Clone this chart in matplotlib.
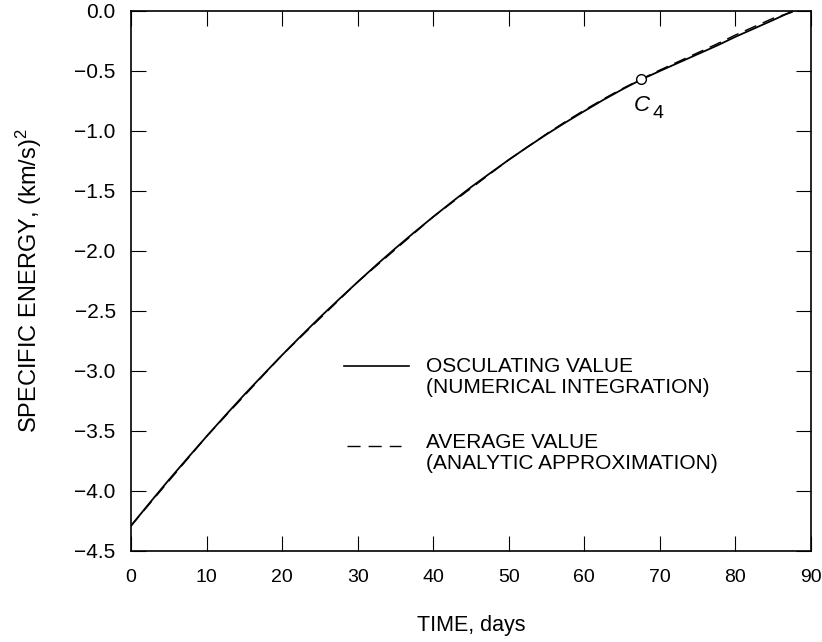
import matplotlib
matplotlib.use('Agg')
import matplotlib.pyplot as plt

plt.rcParams['font.family'] = ['Liberation Sans', 'DejaVu Sans']
plt.rcParams['mathtext.fontset'] = 'custom'
plt.rcParams['mathtext.rm'] = 'Liberation Sans'
plt.rcParams['mathtext.it'] = 'Liberation Sans:italic'

# temps (jours) et energie specifique (km/s)^2, valeur osculatrice
jours = [0, 2.5, 5, 7.5, 10, 12.5, 15, 17.5, 20, 22.5, 25, 27.5, 30, 32.5, 35, 37.5,
         40, 42.5, 45, 47.5, 50, 52.5, 55, 57.5, 60, 62.5, 65, 67.5, 70, 72.5, 75,
         77.5, 80, 82.5, 85, 87.6]
osculant = [-4.29, -4.097, -3.908, -3.725, -3.545, -3.369, -3.197, -3.031, -2.867,
            -2.708, -2.553, -2.404, -2.258, -2.115, -1.977, -1.844, -1.715, -1.590,
            -1.468, -1.353, -1.240, -1.132, -1.028, -0.929, -0.834, -0.741, -0.654,
            -0.572, -0.500, -0.430, -0.360, -0.290, -0.215, -0.145, -0.075, 0.0]

# valeur moyenne (approximation analytique)
jours_moy = [0, 10, 20, 30, 40, 50, 55, 57.5, 60, 62.5, 65, 67.5, 70, 72.5, 75,
             77.5, 80, 82.5, 85, 88.0]
moyenne = [-4.29, -3.545, -2.867, -2.258, -1.715, -1.240, -1.024, -0.922, -0.826,
           -0.734, -0.648, -0.568, -0.492, -0.420, -0.348, -0.276, -0.200, -0.130,
           -0.060, 0.0]

# point C4
c4_jour = 67.5
c4_val = -0.57

xticks = list(range(0, 91, 10))
yticks = [0.0, -0.5, -1.0, -1.5, -2.0, -2.5, -3.0, -3.5, -4.0, -4.5]

fig = plt.figure(figsize=(8.22, 6.42), dpi=100)
ax = fig.add_axes([131/822, 1-551/642, 680/822, 540/642])

ax.plot(jours_moy, moyenne, color='black', lw=1.0, dashes=(9, 5), zorder=2)
ax.plot(jours, osculant, color='black', lw=1.3, zorder=3)
ax.plot([c4_jour], [c4_val], marker='o', ms=7, mfc='white', mec='black', mew=1.0, zorder=4)
ax.text(67.6, -0.79, 'C', fontsize=16, style='italic', ha='center', va='center')
ax.text(69.8, -0.855, '4', fontsize=14, ha='center', va='center')

# legende dessinee a la main
ax.plot([28.2, 36.8], [-2.96, -2.96], color='black', lw=1.2)
ax.text(39.0, -2.96, 'OSCULATING VALUE', fontsize=15, va='center')
ax.text(39.0, -3.135, '(NUMERICAL INTEGRATION)', fontsize=15, va='center')
ax.plot([28.6, 35.7], [-3.625, -3.625], color='black', lw=1.0, dashes=(9.4, 5.8))
ax.text(39.0, -3.60, 'AVERAGE VALUE', fontsize=15, va='center')
ax.text(39.0, -3.77, '(ANALYTIC APPROXIMATION)', fontsize=15, va='center')

ax.set_xlim(0, 90)
ax.set_ylim(-4.5, 0.0)
ax.set_xticks(xticks)
ax.set_yticks(yticks)
ax.set_yticklabels(['0.0'] + ['\u2212%.1f' % abs(v) for v in yticks[1:]])
ax.tick_params(direction='in', length=11, width=0.8,
               top=True, right=True, colors='black')
ax.tick_params(axis='x', pad=13, labelsize=14)
ax.tick_params(axis='y', pad=11, labelsize=15)
for s in ax.spines.values():
    s.set_linewidth(1.2)

ax.set_xlabel('TIME, days', fontsize=15.5, labelpad=20.5)
ax.set_ylabel('SPECIFIC ENERGY, (km/s)$^2$', fontsize=17, labelpad=21.5)

fig.savefig('out.png', dpi=100)
